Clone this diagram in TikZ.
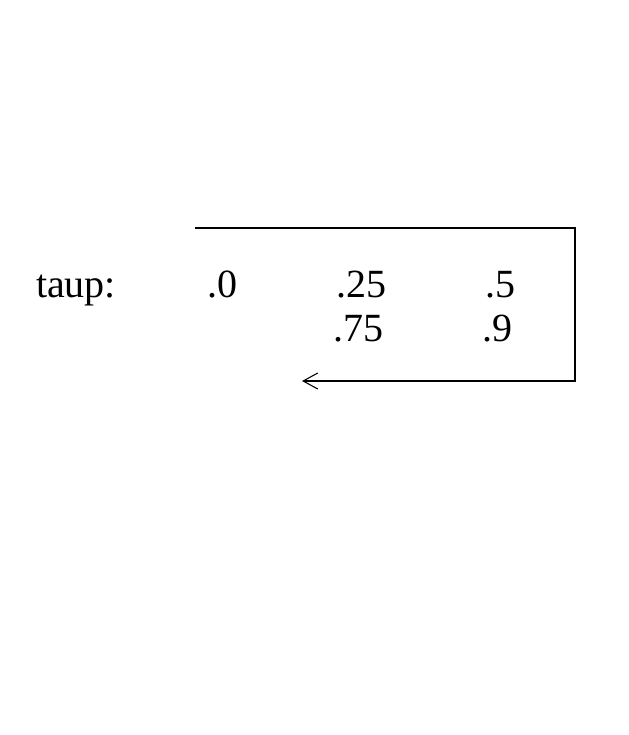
\documentclass[tikz,border=0pt]{standalone}
\usepackage{fontspec}
\setmainfont{Liberation Serif}
\usetikzlibrary{positioning, arrows.meta}

\begin{document}
\begin{tikzpicture}[
    x=0.75pt, y=-0.75pt,
    val/.style={anchor=base, inner sep=0pt, font=\fontsize{30}{36}\selectfont},
    loopline/.style={thick, line cap=rect},
    arrow/.style={-{Straight Barb[length=11pt, width=12pt]}, thick}
]
    \useasboundingbox (0,0) rectangle (628,735);
    \node (lbl) [val] at (76,297) {taup:};
    \node (v0) [val] at (222,297) {.0};
    \node (v25) [val] at (361,297) {.25};
    \node (v5) [val] at (500,297) {.5};
    \node (v75) [val] at (358,341) {.75};
    \node (v9) [val] at (497,341) {.9};

    \coordinate (start) at (196,228);
    \coordinate (topright) at (575,228);
    \coordinate (botright) at (575,381);
    \coordinate (back) at (302,381);

    \draw [loopline] (start) -- (topright) -- (botright);
    \draw [arrow] (botright) -- (back);
\end{tikzpicture}
\end{document}
